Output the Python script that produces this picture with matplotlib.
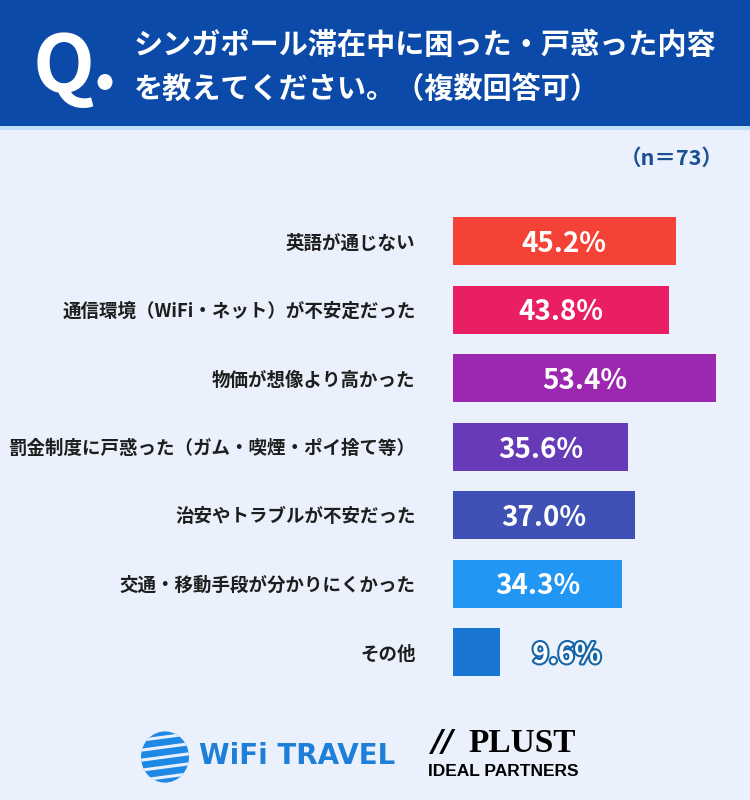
import matplotlib
matplotlib.use("Agg")
import matplotlib.pyplot as plt
import matplotlib.patheffects as pe
from matplotlib.patches import Rectangle, Circle
import numpy as np

plt.rcParams['font.family'] = ['Noto Sans CJK JP', 'DejaVu Sans']

# ---- data ----
categories = [
    "英語が通じない",
    "通信環境（WiFi・ネット）が不安定だった",
    "物価が想像より高かった",
    "罰金制度に戸惑った（ガム・喫煙・ポイ捨て等）",
    "治安やトラブルが不安だった",
    "交通・移動手段が分かりにくかった",
    "その他",
]
values = [45.2, 43.8, 53.4, 35.6, 37.0, 34.3, 9.6]
colors = ["#F44336", "#E91E63", "#9C27B0", "#673AB7", "#3F51B5", "#2196F3", "#1976D2"]
title_lines = ["シンガポール滞在中に困った・戸惑った内容", "を教えてください。（複数回答可）"]
sample_note = "（n＝73）"

W, H = 750, 800
bg = "#EAF1FC"
fig = plt.figure(figsize=(7.5, 8), dpi=100, facecolor=bg)


def fx(px):
    return px / W


def fy(py):
    return 1 - py / H


# header band
fig.patches.append(Rectangle((0, fy(126)), 1, 126 / H, transform=fig.transFigure,
                             facecolor="#0B4AA8", edgecolor="none", zorder=0))
fig.patches.append(Rectangle((0, fy(130)), 1, 4 / H, transform=fig.transFigure,
                             facecolor="#BFDDF7", edgecolor="none", zorder=0))
fig.text(fx(64), fy(60), "Q", color="white", fontsize=58, fontweight="bold",
         ha="center", va="center_baseline")
fig.patches.append(Circle((fx(105), fy(82)), 7.5 / W, transform=fig.transFigure,
                          facecolor="white", edgecolor="none"))
fig.text(fx(134), fy(45), title_lines[0], color="white", fontsize=21,
         fontweight="bold", ha="left", va="center")
fig.text(fx(134), fy(89), title_lines[1], color="white", fontsize=21,
         fontweight="bold", ha="left", va="center")

fig.text(fx(724), fy(158), sample_note, color="#1B4F93", fontsize=15.5,
         fontweight="bold", ha="right", va="center")

# bar chart
row = 68.5
top = 241 - row / 2
ax = fig.add_axes([fx(453), fy(top + 7 * row), 60 * 4.925 / W, 7 * row / H])
ax.set_facecolor("none")
y = np.arange(len(values))
ax.barh(y, values, height=48 / row, color=colors, edgecolor="none")
ax.set_xlim(0, 60)
ax.set_ylim(len(values) - 0.5, -0.5)
ax.set_yticks(y, categories)
ax.tick_params(axis="y", length=0, pad=27, labelsize=13.3, labelcolor="#1E1E1E")
for lab in ax.get_yticklabels():
    lab.set_fontweight("bold")
ax.set_xticks([])
for s in ax.spines.values():
    s.set_visible(False)

for yi, v in zip(y, values):
    txt = f"{v:.1f}%"
    if v > 20:
        ax.text(v / 2, yi, txt, color="white", fontsize=20, fontweight="bold",
                ha="center", va="center_baseline")
    else:
        t = ax.text(v + 13.5, yi, txt, color="white", fontsize=20, fontweight="bold",
                    ha="center", va="center_baseline")
        t.set_path_effects([pe.withStroke(linewidth=3, foreground="#1565A8")])

# logos as text
gx, gy, gr = 165, 757, 24
globe = Circle((fx(gx), fy(gy)), gr / W, transform=fig.transFigure,
               facecolor="#1E88E5", edgecolor="none")
fig.patches.append(globe)
for k in range(-2, 3):
    ln = plt.Line2D([fx(gx - 30), fx(gx + 30)], [fy(gy + k * 10 + 4), fy(gy + k * 10 - 4)],
                    transform=fig.transFigure, color=bg, lw=2.2)
    ln.set_clip_path(globe)
    fig.lines.append(ln)
fig.text(fx(199), fy(756), "WiFi TRAVEL", color="#1E7FD8", fontsize=20,
         fontweight="heavy", ha="left", va="center", family=["DejaVu Sans"])
fig.text(fx(432), fy(742), "//", color="black", fontsize=22, fontweight="bold",
         ha="left", va="center", family=["DejaVu Sans"], style="italic")
fig.text(fx(468), fy(743), "PLUST", color="black", fontsize=24, fontweight="bold",
         ha="left", va="center", family=["Liberation Serif", "DejaVu Serif"])
fig.text(fx(428), fy(771), "IDEAL PARTNERS", color="black", fontsize=12.5,
         fontweight="bold", ha="left", va="center",
         family=["Liberation Sans Narrow", "Liberation Sans", "DejaVu Sans"])

fig.savefig("out.png", dpi=100, facecolor=bg)
